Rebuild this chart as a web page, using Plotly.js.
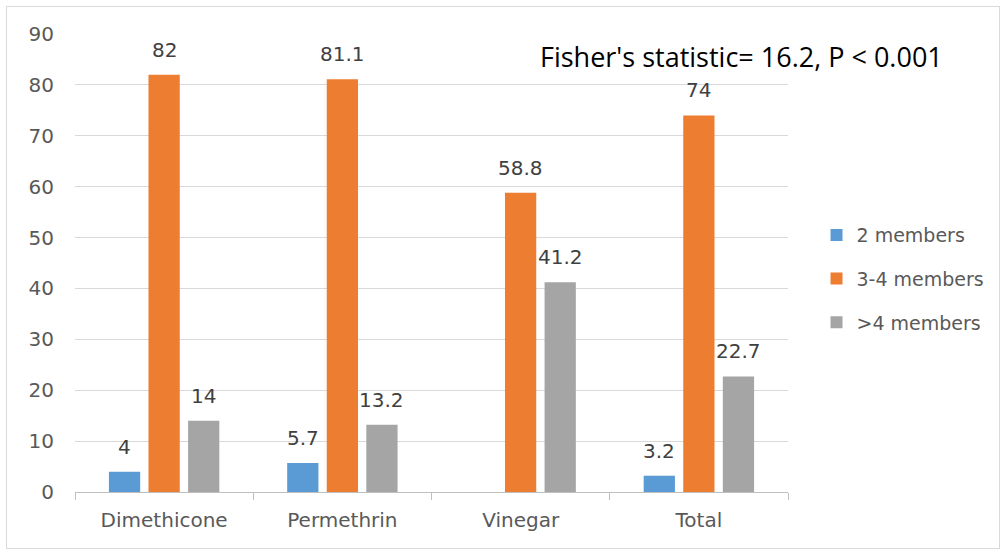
<!DOCTYPE html>
<html>
<head>
<meta charset="utf-8">
<script src="https://cdn.plot.ly/plotly-3.0.1.min.js"></script>
<style>
html,body{margin:0;padding:0;background:#fff;}
#chart{position:absolute;left:0;top:0;width:1004px;height:550px;}
#frame{position:absolute;left:6px;top:6px;width:992px;height:541px;border:1px solid #d9d9d9;pointer-events:none;}
</style>
</head>
<body>
<div id="chart"></div>
<div id="frame"></div>
<script>
var categories = ["Dimethicone", "Permethrin", "Vinegar", "Total"];
var seriesNames = ["2 members", "3-4 members", ">4 members"];
var twoMembers = [4, 5.7, null, 3.2];
var threeFourMembers = [82, 81.1, 58.8, 74];
var moreThanFour = [14, 13.2, 41.2, 22.7];
var colors = ["#5b9bd5", "#ed7d31", "#a5a5a5"];
var annotationText = "Fisher's statistic= 16.2, P < 0.001";

var font = "DejaVu Sans, sans-serif";
var titleFont = "Open Sans, Noto Sans, sans-serif";
var bargap = 0.334;
var values = [twoMembers, threeFourMembers, moreThanFour];
var traces = values.map(function(v, i){
  return {
    type: "bar",
    name: seriesNames[i],
    x: categories,
    y: v,
    marker: {color: colors[i]},
    legendgroup: "g" + i,
    hoverinfo: "x+y+name"
  };
});

// value labels, placed through the axis scales above each bar
var labels = [];
values.forEach(function(v, j){
  var offset = (j - 1) * (1 - bargap) / 3;
  v.forEach(function(d, i){
    if (d === null) return;
    labels.push({
      xref: "x", yref: "y",
      x: i + offset, y: d,
      text: String(d),
      showarrow: false,
      yanchor: "middle", xanchor: "center",
      yshift: 25,
      font: {family: font, size: 20, color: "#404040"}
    });
  });
});
labels.push({
  xref: "paper", yref: "paper",
  x: 0.65, y: 0.95,
  xanchor: "left", yanchor: "middle",
  text: annotationText,
  showarrow: false,
  font: {family: titleFont, size: 27, color: "#000000"}
});

var layout = {
  width: 1004, height: 550,
  margin: {l: 75, r: 216, t: 34, b: 58},
  paper_bgcolor: "#ffffff",
  plot_bgcolor: "#ffffff",
  barmode: "group",
  bargap: bargap,
  bargroupgap: 0.21,
  font: {family: font, color: "#595959", size: 20},
  xaxis: {
    type: "category",
    showgrid: false,
    showline: true,
    linecolor: "#bfbfbf",
    linewidth: 1,
    ticks: "outside",
    tickson: "boundaries",
    ticklen: 7,
    tickcolor: "#bfbfbf",
    ticklabelstandoff: 10,
    tickfont: {family: font, size: 20, color: "#595959"},
    zeroline: false
  },
  yaxis: {
    range: [0, 90],
    dtick: 10,
    showgrid: true,
    gridcolor: "#d9d9d9",
    gridwidth: 1,
    zeroline: false,
    showline: false,
    ticks: "",
    ticklabelstandoff: 20,
    tickfont: {family: font, size: 20, color: "#595959"}
  },
  legend: {
    x: 1.04, xanchor: "left",
    y: 0.465, yanchor: "middle",
    font: {family: font, size: 19, color: "#595959"},
    tracegroupgap: 16,
    itemwidth: 30
  },
  annotations: labels
};

Plotly.newPlot("chart", traces, layout, {displayModeBar: false, staticPlot: true});
</script>
</body>
</html>
